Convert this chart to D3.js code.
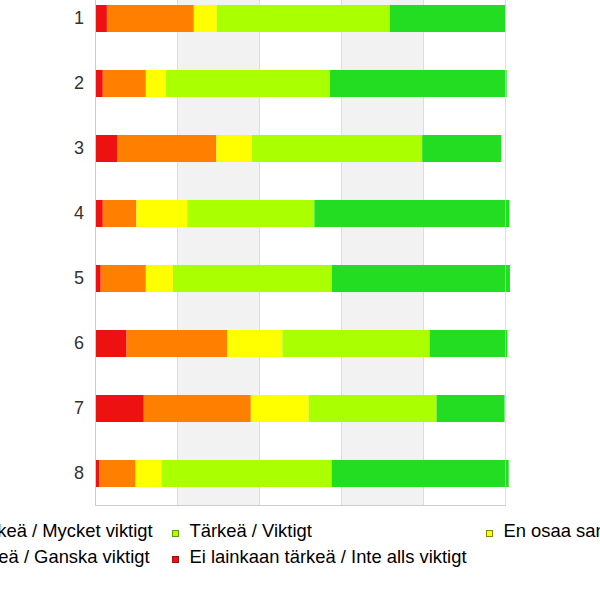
<!DOCTYPE html>
<html>
<head>
<meta charset="utf-8">
<script src="https://cdn.jsdelivr.net/npm/d3@7/dist/d3.min.js"></script>
<style>
html,body{margin:0;padding:0;background:#fff;}
svg{display:block;font-family:Arial,"Liberation Sans",sans-serif;}
</style>
</head>
<body>
<svg id="chart" width="600" height="600"></svg>
<script>
const categories = ["1","2","3","4","5","6","7","8"];
const seriesNames = [
  "Ei lainkaan tärkeä / Inte alls viktigt",
  "Melko tärkeä / Ganska viktigt",
  "En osaa sanoa / Vet inte",
  "Tärkeä / Viktigt",
  "Erittäin tärkeä / Mycket viktigt"
];
const seriesColors = ["#ee1111","#ff7f00","#ffff00","#aaff00","#22dd22"];
const markerStroke = ["#991111","#aa5500","#888800","#669900","#118811"];
const eiLainkaan   = [2.9, 1.9, 5.5, 1.9, 1.4, 7.7, 11.9, 1.1];
const melko        = [21.2, 10.5, 24.1, 8.2, 11.0, 24.6, 26.1, 8.8];
const enOsaa       = [5.6, 4.9, 8.7, 12.4, 6.6, 13.4, 14.1, 6.3];
const tarkea       = [42.2, 40.0, 41.5, 31.0, 38.8, 35.9, 31.2, 41.5];
const erittain     = [28.1, 43.1, 19.3, 47.6, 43.4, 19.0, 16.6, 43.2];
const xTicks = [0, 20, 40, 60, 80, 100];
// legend order (row-major, 3 columns)
const legendOrder = [4, 3, 2, 1, 0];

const seriesValues = [eiLainkaan, melko, enOsaa, tarkea, erittain];
const rows = categories.map((c, i) => {
  const r = {cat: c};
  seriesNames.forEach((s, k) => r[s] = seriesValues[k][i]);
  return r;
});
const stacked = d3.stack().keys(seriesNames)(rows);

const svg = d3.select("#chart");
const plotLeft = 95, plotRight = 505, plotTop = -14, plotBottom = 506;
const x = d3.scaleLinear().domain([0, 100]).range([plotLeft, plotRight]);
const y = d3.scaleBand().domain(categories).range([plotTop, plotBottom])
  .paddingInner(38/65).paddingOuter(19/65);

// alternating stripes
const g0 = svg.append("g");
for (let i = 0; i < xTicks.length - 1; i++) {
  if (i % 2 === 1) {
    g0.append("rect").attr("x", x(xTicks[i])).attr("y", 0)
      .attr("width", x(xTicks[i+1]) - x(xTicks[i])).attr("height", 505)
      .attr("fill", "#f2f2f2");
  }
}
// gridlines
g0.selectAll("line.grid").data(xTicks.slice(1)).join("line")
  .attr("class","grid")
  .attr("x1", d => x(d) + 0.5).attr("x2", d => x(d) + 0.5)
  .attr("y1", 0).attr("y2", 505)
  .attr("stroke", "#dddddd").attr("stroke-width", 1);

// bars
const gb = svg.append("g");
stacked.forEach((layer, k) => {
  gb.append("g").attr("fill", seriesColors[k])
    .selectAll("rect").data(layer).join("rect")
    .attr("x", d => x(d[0]))
    .attr("width", d => x(d[1]) - x(d[0]))
    .attr("y", d => y(d.data.cat))
    .attr("height", y.bandwidth());
});

// frame: left axis, bottom axis, right edge
svg.append("line").attr("x1", plotLeft + 0.5).attr("x2", plotLeft + 0.5)
  .attr("y1", 0).attr("y2", 505.5).attr("stroke", "#cccccc");
svg.append("line").attr("x1", plotLeft).attr("x2", plotRight + 1)
  .attr("y1", 505.5).attr("y2", 505.5).attr("stroke", "#cccccc");
svg.append("line").attr("x1", plotRight + 0.5).attr("x2", plotRight + 0.5)
  .attr("y1", 0).attr("y2", 505).attr("stroke", "#dddddd").attr("stroke-opacity", 0.6);

// y axis labels
const yAxis = d3.axisLeft(y).tickSize(0).tickPadding(11);
const ga = svg.append("g").attr("transform", `translate(${plotLeft},0)`).call(yAxis);
ga.select(".domain").remove();
ga.selectAll("text").attr("font-size", 18).attr("fill", "#333")
  .attr("font-family", "Arial, 'Liberation Sans', sans-serif");

// legend
const legend = svg.append("g").attr("font-size", 18.4).attr("fill", "#000");
const colX = [-104, 172, 486];
const rowY = [537, 563];
legendOrder.forEach((k, i) => {
  const col = i % 3, row = Math.floor(i / 3);
  const gx = colX[col], gy = rowY[row];
  legend.append("rect").attr("x", gx + 0.5).attr("y", gy - 6.5)
    .attr("width", 6).attr("height", 6)
    .attr("fill", seriesColors[k]).attr("stroke", markerStroke[k]);
  legend.append("text").attr("x", gx + 17.5).attr("y", gy)
    .text(seriesNames[k]);
});
</script>
</body>
</html>
